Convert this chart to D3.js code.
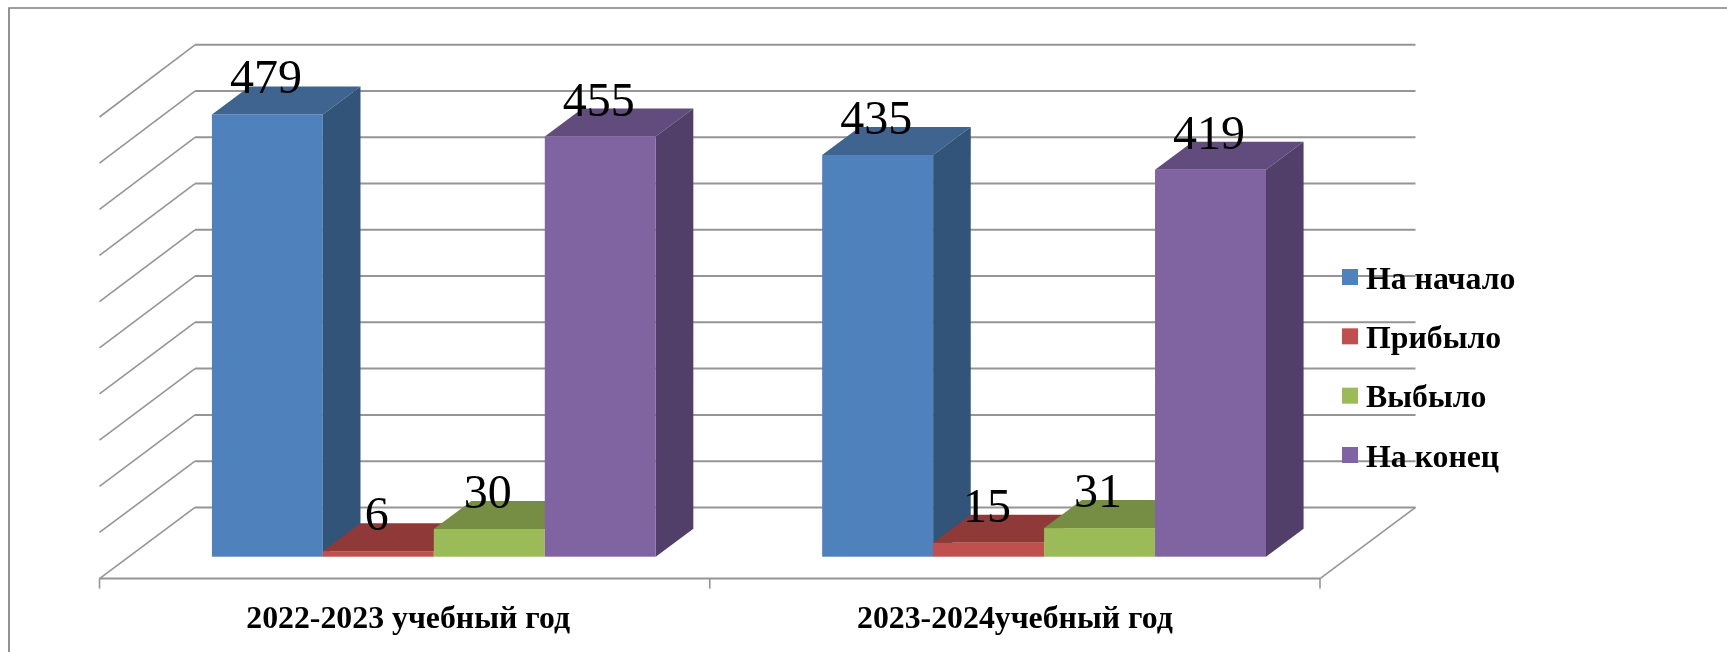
<!DOCTYPE html>
<html lang="ru">
<head>
<meta charset="utf-8">
<script src="https://cdn.jsdelivr.net/npm/d3@7/dist/d3.min.js"></script>
<style>
html,body{margin:0;padding:0;background:#fff;overflow:hidden}
svg{display:block;filter:blur(0.45px)}
text{font-family:"Liberation Serif",serif;fill:#000}
</style>
</head>
<body>
<svg id="chart" width="1727" height="652"></svg>
<script>
const categories = ["2022-2023 учебный год", "2023-2024учебный год"];
const seriesNames = ["На начало", "Прибыло", "Выбыло", "На конец"];
const nachalo = [479, 435];
const pribylo = [6, 15];
const vybylo = [30, 31];
const konec = [455, 419];
const gridTicks = [0, 50, 100, 150, 200, 250, 300, 350, 400, 450, 500];
const frontColors = ["#4f81bd", "#c0504d", "#9bbb59", "#8064a2"];
const sideColors = ["#325479", "#7f3331", "#647a39", "#523f69"];
const topColors = ["#3e648f", "#8f3a38", "#758e43", "#624c7d"];

const seriesValues = [nachalo, pribylo, vybylo, konec];
const svg = d3.select("#chart");

// plot geometry
const floorFrontLeft = 99.5, floorFrontRight = 1320;
const floorDx = 95.5;
const barDx = 37.6, barDy = 28, barInsetDx = 29.2;
const gridColor = "#959595";

const yWallBack = d3.scaleLinear().domain([0, 500]).range([507.4, 44.8]);
const yWallFront = d3.scaleLinear().domain([0, 500]).range([578.6, 117]);
const yBar = d3.scaleLinear().domain([0, 500]).range([556.7, 95]);

const xCat = d3.scaleBand().domain(categories)
  .range([floorFrontLeft, floorFrontRight]).paddingInner(0).paddingOuter(0);
const bandW = xCat.bandwidth();
const barW = bandW / 5.5;
const xSeries = d3.scaleBand().domain(seriesNames)
  .range([0, barW * 4]);

// outer frame, runs off the right and bottom of the picture
svg.append("path").attr("d", d3.line()([[9, 660], [9, 8], [1735, 8]]))
  .attr("fill", "none").attr("stroke", "#808080").attr("stroke-width", 1.7);

// walls
const grid = svg.append("g");
grid.selectAll("line.back").data(gridTicks).join("line").attr("class", "back")
  .attr("x1", floorFrontLeft + floorDx).attr("x2", floorFrontRight + floorDx)
  .attr("y1", d => yWallBack(d)).attr("y2", d => yWallBack(d))
  .attr("stroke", gridColor).attr("stroke-width", 2);
grid.selectAll("line.side").data(gridTicks).join("line").attr("class", "side")
  .attr("x1", floorFrontLeft).attr("x2", floorFrontLeft + floorDx)
  .attr("y1", d => yWallFront(d)).attr("y2", d => yWallBack(d))
  .attr("stroke", gridColor).attr("stroke-width", 1.6);

// floor
grid.append("line").attr("x1", floorFrontLeft).attr("x2", floorFrontRight)
  .attr("y1", yWallFront(0)).attr("y2", yWallFront(0))
  .attr("stroke", gridColor).attr("stroke-width", 2);
grid.append("line").attr("x1", floorFrontRight).attr("x2", floorFrontRight + floorDx)
  .attr("y1", yWallFront(0)).attr("y2", yWallBack(0))
  .attr("stroke", gridColor).attr("stroke-width", 1.6);
const axisTicks = [floorFrontLeft, floorFrontLeft + bandW, floorFrontRight];
grid.selectAll("line.tick").data(axisTicks).join("line").attr("class", "tick")
  .attr("x1", d => d).attr("x2", d => d)
  .attr("y1", yWallFront(0)).attr("y2", yWallFront(0) + 10)
  .attr("stroke", gridColor).attr("stroke-width", 1.6);

// bars
const line = d3.line();
const labels = [];
categories.forEach((cat, ci) => {
  const groupX = xCat(cat) + barW * 0.75 + barInsetDx;
  seriesNames.forEach((name, si) => {
    const v = seriesValues[si][ci];
    const next = si + 1 < seriesNames.length ? seriesValues[si + 1][ci] : -1;
    const x0 = groupX + xSeries(name), x1 = x0 + xSeries.bandwidth();
    const yT = yBar(v), yB = yBar(0);
    const g = svg.append("g");
    g.append("path").attr("fill", topColors[si]).attr("d", line([
      [x0, yT], [x1, yT], [x1 + barDx, yT - barDy], [x0 + barDx, yT - barDy]]) + "Z");
    // a side face behind a taller neighbour is hidden, so it is not drawn
    if (next < v) {
      g.append("path").attr("fill", sideColors[si]).attr("d", line([
        [x1, yT], [x1 + barDx, yT - barDy], [x1 + barDx, yB - barDy], [x1, yB]]) + "Z");
    }
    g.append("rect").attr("fill", frontColors[si])
      .attr("x", x0).attr("y", yT).attr("width", x1 - x0).attr("height", yB - yT);
    labels.push({v, x: (x0 + x1) / 2 - 1.5, y: yT - 21});
  });
});

// data labels
svg.append("g").selectAll("text").data(labels).join("text")
  .attr("x", d => d.x).attr("y", d => d.y)
  .attr("text-anchor", "middle").attr("font-size", 48)
  .text(d => d.v);

// category labels
svg.append("g").selectAll("text").data(categories).join("text")
  .attr("x", d => xCat(d) + bandW / 2 + (d === categories[0] ? 3.5 : 0))
  .attr("y", 627.5)
  .attr("text-anchor", "middle").attr("font-size", 31.8).attr("font-weight", "bold")
  .text(d => d);

// legend
const legendY = d3.scalePoint().domain(seriesNames).range([277, 455]);
const legend = svg.append("g").selectAll("g").data(seriesNames).join("g")
  .attr("transform", d => `translate(1342,${legendY(d)})`);
legend.append("rect").attr("x", 0).attr("y", -8).attr("width", 16).attr("height", 16)
  .attr("fill", (d, i) => frontColors[i]);
legend.append("text").attr("x", 24).attr("y", 11.5)
  .attr("font-size", 31.8).attr("font-weight", "bold")
  .text(d => d);
</script>
</body>
</html>
